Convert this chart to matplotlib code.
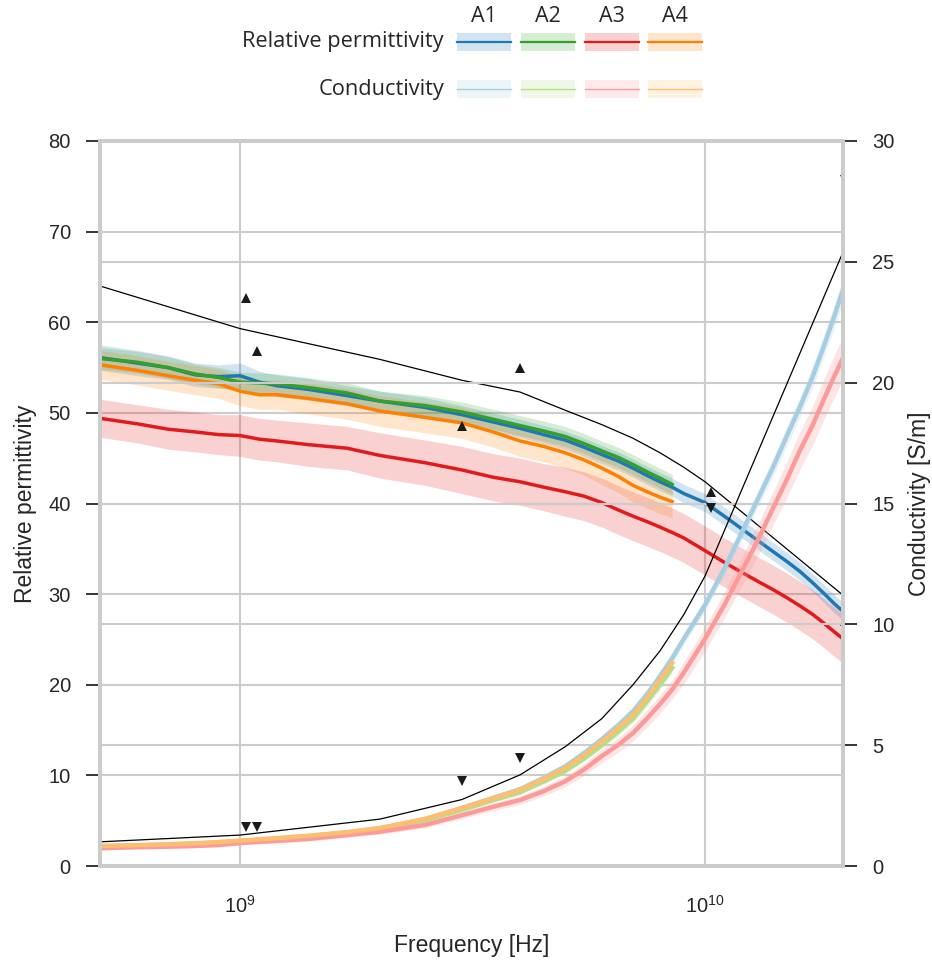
import numpy as np
import matplotlib.pyplot as plt
from matplotlib.patches import Rectangle
from matplotlib.lines import Line2D
from matplotlib.ticker import NullLocator

plt.rcParams['font.family'] = ['Liberation Sans', 'DejaVu Sans']
plt.rcParams['mathtext.default'] = 'regular'

# measurement frequencies [GHz]; A2 and A4 stop at 8.5 GHz
freq = [0.5, 0.6, 0.7, 0.8, 0.9, 1.0, 1.1, 1.2, 1.4, 1.7, 2.0, 2.5, 3.0, 3.5, 4.0,
        4.5, 5.0, 5.5, 6.0, 6.5, 7.0, 7.5, 8.0, 8.5,
        9, 10, 11, 12, 13, 14, 15, 16, 17, 18, 19, 20]

# relative permittivity (mean, sd)
perm_a1 = [56.1, 55.5, 55.0, 54.2, 54.0, 54.1, 53.4, 53.0, 52.6, 51.9, 51.3, 50.6, 49.8, 49.0, 48.3,
           47.6, 47.0, 46.2, 45.4, 44.7, 43.9, 43.1, 42.4, 41.8,
           41.1, 40.1, 38.6, 37.2, 35.9, 34.7, 33.6, 32.5, 31.3, 30.1, 28.9, 27.9]
perm_a2 = [56.0, 55.6, 55.0, 54.3, 53.9, 53.4, 53.3, 53.2, 52.8, 52.2, 51.3, 50.8, 50.1, 49.3, 48.6,
           48.0, 47.4, 46.6, 45.8, 45.1, 44.3, 43.5, 42.8, 42.1]
perm_a3 = [49.4, 48.8, 48.2, 47.9, 47.6, 47.5, 47.1, 46.9, 46.5, 46.1, 45.3, 44.5, 43.7, 42.9, 42.4,
           41.8, 41.3, 40.8, 40.1, 39.3, 38.6, 38.0, 37.4, 36.8,
           36.2, 34.8, 33.5, 32.4, 31.4, 30.5, 29.6, 28.7, 27.8, 26.8, 25.8, 24.9]
perm_a4 = [55.3, 54.7, 54.1, 53.6, 53.2, 52.4, 52.0, 52.0, 51.6, 51.0, 50.2, 49.5, 48.9, 47.9, 46.9,
           46.3, 45.6, 44.8, 43.9, 43.0, 42.0, 41.3, 40.7, 40.2]
perm_a1_sd = [1.4, 1.4, 1.3, 1.3, 1.3, 1.4, 1.2, 1.2, 1.2, 1.1, 1.1, 1.1, 1.0, 1.0, 1.0,
              1.0, 1.0, 1.0, 1.0, 1.0, 1.0, 1.0, 1.0, 1.0,
              1.0, 1.0, 1.0, 1.0, 1.0, 1.0, 1.0, 1.0, 1.0, 1.0, 1.0, 1.0]
perm_a2_sd = [1.2, 1.2, 1.2, 1.1, 1.1, 1.1, 1.1, 1.1, 1.1, 1.1, 1.1, 1.1, 1.1, 1.1, 1.1,
              1.1, 1.1, 1.1, 1.1, 1.1, 1.1, 1.1, 1.1, 1.1]
perm_a3_sd = [2.1, 2.1, 2.2, 2.2, 2.2, 2.3, 2.3, 2.3, 2.4, 2.4, 2.5, 2.5, 2.6, 2.6, 2.6,
              2.6, 2.7, 2.7, 2.7, 2.7, 2.7, 2.7, 2.7, 2.7,
              2.7, 2.7, 2.7, 2.7, 2.7, 2.7, 2.7, 2.7, 2.7, 2.7, 2.7, 2.7]
perm_a4_sd = [1.6, 1.6, 1.6, 1.6, 1.6, 1.6, 1.6, 1.6, 1.7, 1.7, 1.7, 1.7, 1.7, 1.7, 1.7,
              1.7, 1.7, 1.7, 1.8, 1.8, 1.8, 1.8, 1.8, 1.8]

# conductivity [S/m] (mean, sd)
cond_a1 = [0.82, 0.85, 0.89, 0.93, 0.98, 1.04, 1.09, 1.14, 1.24, 1.39, 1.56, 1.94, 2.40, 2.82, 3.18,
           3.65, 4.12, 4.68, 5.25, 5.82, 6.40, 7.10, 7.85, 8.60,
           9.4, 10.8, 12.3, 13.8, 15.2, 16.5, 17.8, 19.0, 20.2, 21.5, 22.8, 24.1]
cond_a2 = [0.80, 0.83, 0.87, 0.91, 0.96, 1.02, 1.07, 1.12, 1.21, 1.36, 1.52, 1.89, 2.32, 2.72, 3.05,
           3.50, 3.93, 4.45, 5.00, 5.55, 6.10, 6.80, 7.50, 8.20]
cond_a3 = [0.74, 0.78, 0.80, 0.83, 0.87, 0.95, 1.00, 1.04, 1.12, 1.28, 1.42, 1.70, 2.10, 2.45, 2.73,
           3.10, 3.50, 4.00, 4.55, 5.00, 5.50, 6.10, 6.70, 7.30,
           8.0, 9.4, 10.8, 12.2, 13.5, 14.8, 16.0, 17.2, 18.2, 19.3, 20.3, 21.2]
cond_a4 = [0.83, 0.86, 0.90, 0.94, 0.99, 1.05, 1.10, 1.15, 1.25, 1.40, 1.57, 1.95, 2.40, 2.80, 3.15,
           3.60, 4.05, 4.60, 5.15, 5.70, 6.25, 6.95, 7.70, 8.40]
cond_a1_sd = [0.05, 0.05, 0.05, 0.05, 0.05, 0.05, 0.05, 0.05, 0.05, 0.06, 0.06, 0.07, 0.08, 0.09, 0.10,
              0.11, 0.12, 0.13, 0.15, 0.16, 0.18, 0.2, 0.21, 0.22,
              0.24, 0.26, 0.29, 0.32, 0.35, 0.38, 0.40, 0.42, 0.45, 0.47, 0.49, 0.5]
cond_a2_sd = [0.05, 0.05, 0.05, 0.05, 0.05, 0.05, 0.05, 0.05, 0.05, 0.06, 0.06, 0.07, 0.08, 0.09, 0.10,
              0.11, 0.12, 0.13, 0.15, 0.16, 0.18, 0.2, 0.21, 0.22]
cond_a3_sd = [0.08, 0.08, 0.08, 0.08, 0.08, 0.08, 0.08, 0.09, 0.09, 0.10, 0.10, 0.12, 0.14, 0.16, 0.18,
              0.2, 0.22, 0.25, 0.28, 0.3, 0.33, 0.36, 0.38, 0.4,
              0.45, 0.5, 0.55, 0.6, 0.65, 0.7, 0.74, 0.78, 0.8, 0.85, 0.88, 0.9]
cond_a4_sd = [0.06, 0.06, 0.06, 0.06, 0.06, 0.06, 0.06, 0.06, 0.06, 0.07, 0.07, 0.08, 0.09, 0.10, 0.12,
              0.13, 0.15, 0.16, 0.18, 0.2, 0.22, 0.24, 0.26, 0.28]

# reference model (black lines)
freq_ref = [0.5, 1, 2, 3, 4, 5, 6, 7, 8, 9, 10, 20]
perm_ref = [64.0, 59.3, 55.9, 53.6, 52.3, 50.3, 48.7, 47.2, 45.6, 44.0, 42.4, 29.7]
cond_ref = [1.0, 1.28, 1.94, 2.75, 3.77, 4.93, 6.1, 7.5, 8.9, 10.4, 12.0, 25.6]

# literature points (triangles)
freq_lit = [1.03, 1.09, 3.0, 4.0, 10.3, 20]
perm_lit = [62.7, 56.8, 48.5, 54.9, 41.3, 27.0]
cond_lit = [1.6, 1.6, 3.5, 4.45, 14.8, 28.4]

names = ['A1', 'A2', 'A3', 'A4']
dark = ['#1f78b4', '#33a02c', '#e31a1c', '#ff7f00']
light = ['#a6cee3', '#b2df8a', '#fb9a99', '#fdbf6f']

perm_series = [(perm_a1, perm_a1_sd), (perm_a2, perm_a2_sd), (perm_a3, perm_a3_sd), (perm_a4, perm_a4_sd)]
cond_series = [(cond_a1, cond_a1_sd), (cond_a2, cond_a2_sd), (cond_a3, cond_a3_sd), (cond_a4, cond_a4_sd)]

W, H = 932, 964
fig = plt.figure(figsize=(W / 100, H / 100), dpi=100)
ax = fig.add_axes([100 / W, 1 - 866 / H, 743 / W, 725 / H])
ax2 = ax.twinx()

grid_c = '#cccccc'
tick_c = '#262626'

for (m, sd), c in zip(perm_series, dark):
    f = np.array(freq[:len(m)]) * 1e9
    m, sd = np.array(m), np.array(sd)
    ax.fill_between(f, m - sd, m + sd, color=c, alpha=0.2, lw=0)
    ax.plot(f, m, color=c, lw=2.5)
ax.plot(np.array(freq_ref) * 1e9, perm_ref, color='black', lw=0.9)
ax.plot(np.array(freq_lit) * 1e9, perm_lit, '^', color='#1a1a1a', ms=6.5, mew=0)

for (m, sd), c in zip(cond_series, light):
    f = np.array(freq[:len(m)]) * 1e9
    m, sd = np.array(m), np.array(sd)
    ax2.fill_between(f, m - sd, m + sd, color=c, alpha=0.25, lw=0)
    ax2.plot(f, m, color=c, lw=3.2)
ax2.plot(np.array(freq_ref) * 1e9, cond_ref, color='black', lw=0.9)
ax2.plot(np.array(freq_lit) * 1e9, cond_lit, 'v', color='#1a1a1a', ms=6.5, mew=0)

ax.set_xscale('log')
ax.set_xlim(5e8, 1.98e10)
ax.set_ylim(0, 80)
ax2.set_ylim(0, 30)
ax.set_yticks(range(0, 81, 10))
ax2.set_yticks(range(0, 31, 5))
ax.xaxis.set_minor_locator(NullLocator())

ax.set_axisbelow(True)
ax.grid(True, which='major', color=grid_c, lw=1.5)
ax2.grid(True, axis='y', color=grid_c, lw=1.5)

for a in (ax, ax2):
    for s in a.spines.values():
        s.set_color(grid_c)
        s.set_linewidth(2.8)
ax.tick_params(axis='y', length=10, width=1.3, color=tick_c, pad=11, labelsize=14.5, labelcolor=tick_c)
ax2.tick_params(axis='y', length=10, width=1.3, color=tick_c, pad=11, labelsize=14.5, labelcolor=tick_c)
ax.tick_params(axis='x', length=10, width=0, pad=11, labelsize=14.5, labelcolor=tick_c)

ax.set_xlabel('Frequency [Hz]', fontsize=16.5, color=tick_c, labelpad=12)
ax.set_ylabel('Relative permittivity', fontsize=16.5, color=tick_c, labelpad=8)
ax2.set_ylabel('Conductivity [S/m]', fontsize=16.5, color=tick_c, labelpad=10)

# legend table at the top
def fx(px):
    return px / W


def fy(py):
    return 1 - py / H


leg_font = ['Open Sans', 'DejaVu Sans']
col_x = [484, 548, 612, 675]
pw, ph = 54, 18
for name, cx, cd, cl in zip(names, col_x, dark, light):
    fig.text(fx(cx), fy(17), name, ha='center', va='center', fontsize=15.5,
             family=leg_font, color=tick_c)
    for row_y, col, lw in ((42, cd, 1.6), (89, cl, 1.0)):
        fig.add_artist(Rectangle((fx(cx - pw / 2), fy(row_y + ph / 2)), pw / W, ph / H,
                                 transform=fig.transFigure, color=col, alpha=0.2, lw=0))
        fig.add_artist(Line2D([fx(cx - pw / 2), fx(cx + pw / 2)], [fy(row_y), fy(row_y)],
                              transform=fig.transFigure, color=col, lw=lw))
fig.text(fx(444), fy(42), 'Relative permittivity', ha='right', va='center', fontsize=15.7,
         family=leg_font, color=tick_c)
fig.text(fx(444), fy(89), 'Conductivity', ha='right', va='center', fontsize=15.7,
         family=leg_font, color=tick_c)

fig.savefig('out.png', dpi=100)
